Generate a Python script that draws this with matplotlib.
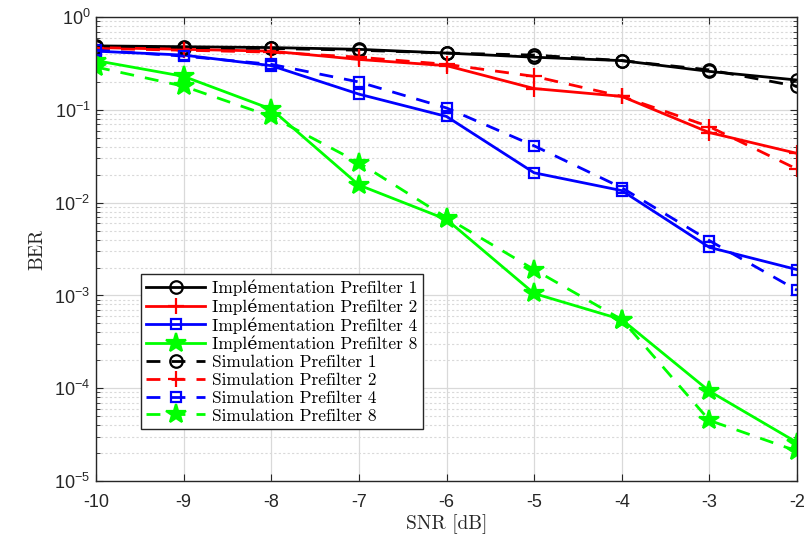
import numpy as np
import matplotlib.pyplot as plt
from matplotlib.ticker import LogLocator, NullFormatter

# SNR axis
snr = [-10, -9, -8, -7, -6, -5, -4, -3, -2]

# BER (implementation = solid, simulation = dashed)
impl_p1 = [0.49, 0.48, 0.47, 0.45, 0.41, 0.37, 0.34, 0.26, 0.21]
impl_p2 = [0.47, 0.45, 0.43, 0.35, 0.30, 0.17, 0.14, 0.057, 0.034]
impl_p4 = [0.43, 0.39, 0.30, 0.148, 0.085, 0.021, 0.0135, 0.0033, 0.0019]
impl_p8 = [0.34, 0.23, 0.102, 0.0155, 0.0066, 0.00105, 0.00055, 9.3e-5, 2.6e-5]

sim_p1 = [0.48, 0.47, 0.46, 0.44, 0.41, 0.39, 0.34, 0.27, 0.18]
sim_p2 = [0.46, 0.44, 0.42, 0.37, 0.31, 0.23, 0.14, 0.066, 0.023]
sim_p4 = [0.44, 0.38, 0.31, 0.20, 0.105, 0.041, 0.0145, 0.0039, 0.00114]
sim_p8 = [0.29, 0.18, 0.085, 0.027, 0.0069, 0.0019, 0.00055, 4.5e-5, 2.1e-5]

labels_impl = ['Implémentation Prefilter 1', 'Implémentation Prefilter 2',
               'Implémentation Prefilter 4', 'Implémentation Prefilter 8']
labels_sim = ['Simulation Prefilter 1', 'Simulation Prefilter 2',
              'Simulation Prefilter 4', 'Simulation Prefilter 8']

colors = ['black', '#ff0000', '#0000ff', '#00ff00']
markers = ['o', '+', 's', '*']
msizes = [9, 12, 7, 15]
mfcs = ['none', 'none', 'none', '#00ff00']

plt.rcParams['font.family'] = ['Liberation Sans', 'DejaVu Sans']
plt.rcParams['mathtext.fontset'] = 'custom'
plt.rcParams['mathtext.rm'] = 'Liberation Sans'
plt.rcParams['mathtext.it'] = 'Liberation Sans'
plt.rcParams['axes.unicode_minus'] = False

serif = ['cmr10', 'DejaVu Serif']

fig = plt.figure(figsize=(8.09, 5.36), dpi=100)
ax = fig.add_axes([0.1187, 0.1026, 0.8665, 0.8654])

for ys, c, m, ms, mfc, lab in zip([impl_p1, impl_p2, impl_p4, impl_p8], colors, markers, msizes, mfcs, labels_impl):
    ax.plot(snr, ys, '-', color=c, marker=m, markersize=ms, mfc=mfc, mec=c, mew=1.6, lw=2, label=lab)
for ys, c, m, ms, mfc, lab in zip([sim_p1, sim_p2, sim_p4, sim_p8], colors, markers, msizes, mfcs, labels_sim):
    ax.plot(snr, ys, '--', color=c, marker=m, markersize=ms, mfc=mfc, mec=c, mew=1.6, lw=2,
            dashes=(5, 4), label=lab)

ax.set_yscale('log')
ax.set_xlim(-10, -2)
ax.set_ylim(1e-5, 1)
ax.set_xticks(snr)
ax.yaxis.set_major_locator(LogLocator(base=10, numticks=10))
ax.yaxis.set_minor_locator(LogLocator(base=10, subs=np.arange(2, 10), numticks=10))
ax.yaxis.set_minor_formatter(NullFormatter())

ax.grid(True, which='major', color='#d9d9d9', lw=0.9)
ax.grid(True, which='minor', axis='y', color='#d9d9d9', lw=0.8, ls=(0, (2, 2)))
ax.set_axisbelow(True)

ax.tick_params(which='both', direction='in', top=True, right=True, labelsize=13, colors='#262626')
ax.tick_params(which='major', length=5)
ax.tick_params(which='minor', length=3)
ax.tick_params(axis='x', pad=9)
ax.tick_params(axis='y', pad=4)
for s in ax.spines.values():
    s.set_color('#262626')
    s.set_linewidth(1.0)

ax.set_xlabel('SNR [dB]', fontsize=14, family=serif, color='#262626', labelpad=3)
ax.set_ylabel('BER', fontsize=14, family=serif, color='#262626', labelpad=6)

leg = ax.legend(loc='lower left', bbox_to_anchor=(0.052, 0.094), prop={'family': serif, 'size': 12.5},
                handlelength=3.4, handletextpad=0.4, labelspacing=0.14, borderpad=0.3,
                fancybox=False, framealpha=1, edgecolor='#262626')
leg.get_frame().set_linewidth(1.0)

fig.savefig('out.png', dpi=100)
